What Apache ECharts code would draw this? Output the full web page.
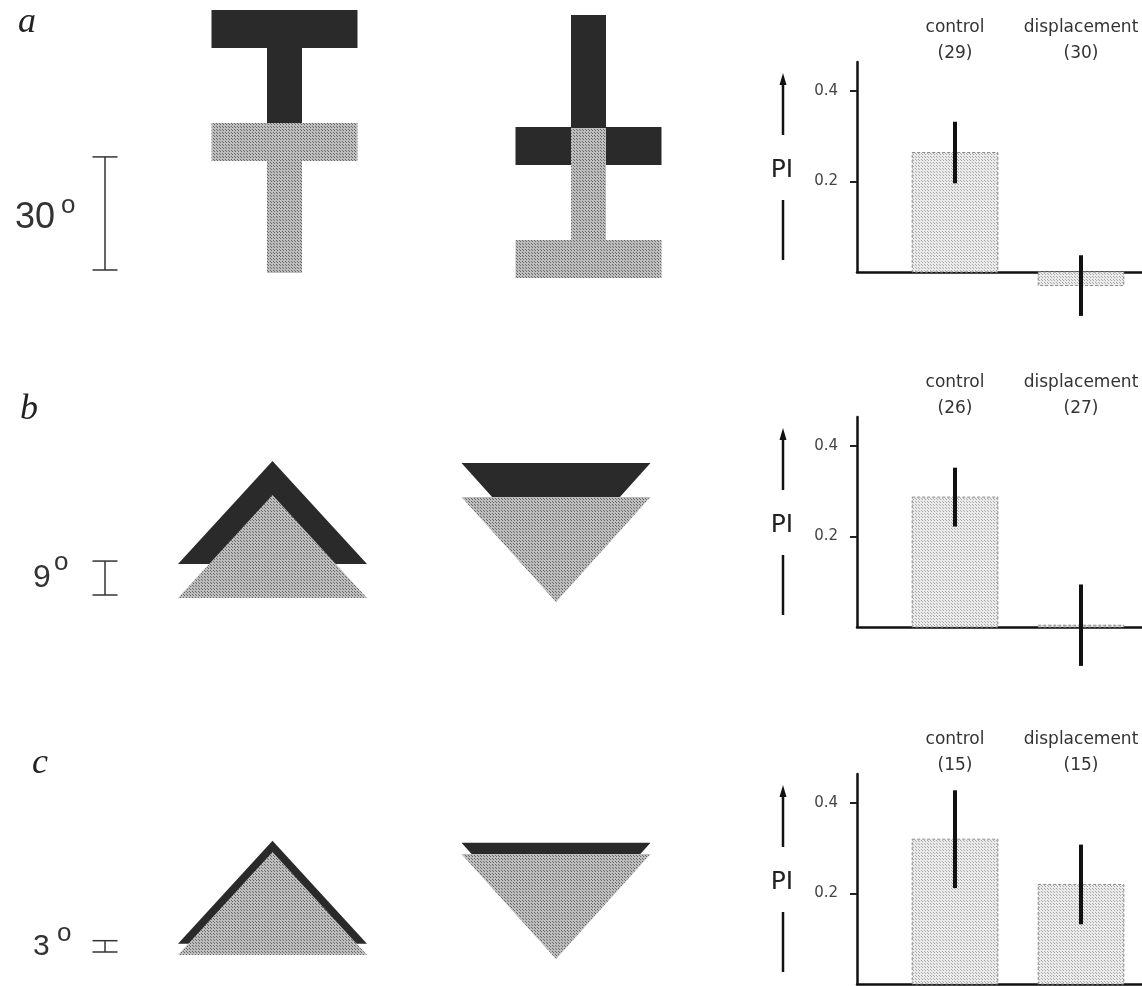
<!DOCTYPE html>
<html>
<head>
<meta charset="utf-8">
<style>
  html, body { margin: 0; padding: 0; background: #fff; }
  #chart { width: 1142px; height: 986px; }
</style>
<script src="https://cdn.jsdelivr.net/npm/echarts@6/dist/echarts.min.js"></script>
</head>
<body>
<div id="chart"></div>
<script>
// ---- data ----
const panelLetters = ['a', 'b', 'c'];
const categories = ['control', 'displacement'];
const scaleDegrees = [30, 9, 3];            // vertical displacement of the dark pattern
const sampleSizes = [[29, 30], [26, 27], [15, 15]];
const meanPI = [[0.264, -0.030], [0.287, 0.004], [0.320, 0.220]];
const errPI = [[0.068, 0.067], [0.065, 0.090], [0.108, 0.088]];
const yTickValues = [0.2, 0.4];

// ---- layout ----
const W = 1142, H = 986;
const gridTops = [62, 417, 774];
const gridH = 210;
const yMax = 0.464;
const pxPerDeg = 3.77;
const DARK = '#2a2a2a';
const TEXT = '#333';

const chart = echarts.init(document.getElementById('chart'), null, { renderer: 'canvas', width: W, height: H });

// halftone fill used for the grey patterns and bars
function dotPattern(bg, dot, step) {
  const c = document.createElement('canvas');
  c.width = step; c.height = step;
  const g = c.getContext('2d');
  g.fillStyle = bg; g.fillRect(0, 0, step, step);
  g.fillStyle = dot; g.fillRect(0, 0, 1, 1);
  g.fillRect(Math.floor(step / 2), Math.floor(step / 2), 1, 1);
  return { image: c, repeat: 'repeat' };
}
const greyFill = dotPattern('#bdbdbd', '#6a6a6a', 3);
const barFill = dotPattern('#eaeaea', '#acacac', 3);

const grids = [], xAxes = [], yAxes = [], series = [];
gridTops.forEach((top, i) => {
  grids.push({ left: 857, right: 0, top: top, height: gridH });
  xAxes.push({
    type: 'value', gridIndex: i, min: -0.778, max: 1.484,
    axisLine: { onZero: false, lineStyle: { color: '#111', width: 2.5 } },
    axisTick: { show: false }, axisLabel: { show: false }, splitLine: { show: false }
  });
  yAxes.push({
    type: 'value', gridIndex: i, min: 0, max: yMax,
    axisLine: { show: true, onZero: false, lineStyle: { color: '#111', width: 2.5 } },
    axisTick: { show: true, customValues: yTickValues, length: 7, lineStyle: { color: '#222', width: 2 } },
    axisLabel: {
      customValues: yTickValues, margin: 19,
      formatter: v => v.toFixed(1),
      fontFamily: 'DejaVu Sans', fontSize: 15, color: '#444'
    },
    splitLine: { show: false }
  });
  const rows = meanPI[i].map((m, j) => [j, m, errPI[i][j]]);
  series.push({
    type: 'custom', xAxisIndex: i, yAxisIndex: i, clip: false, z: 2,
    data: rows,
    renderItem: (params, api) => {
      const x = api.value(0), v = api.value(1);
      const p0 = api.coord([x, 0]), p1 = api.coord([x, v]);
      const w = api.size([0.68, 0])[0];
      return {
        type: 'rect',
        shape: { x: p0[0] - w / 2, y: Math.min(p0[1], p1[1]), width: w, height: Math.abs(p1[1] - p0[1]) },
        style: { fill: barFill, stroke: '#8a8a8a', lineWidth: 1, lineDash: [3, 2] }
      };
    }
  });
  series.push({
    type: 'custom', xAxisIndex: i, yAxisIndex: i, clip: false, z: 3,
    data: rows,
    renderItem: (params, api) => {
      const x = api.value(0), m = api.value(1), e = api.value(2);
      const hi = api.coord([x, m + e]), lo = api.coord([x, m - e]);
      return {
        type: 'line',
        shape: { x1: hi[0], y1: hi[1], x2: lo[0], y2: lo[1] },
        style: { stroke: '#111', lineWidth: 4 }
      };
    }
  });
});

chart.setOption({
  animation: false,
  backgroundColor: '#fff',
  grid: grids, xAxis: xAxes, yAxis: yAxes, series: series
});

// ---- annotations and stimulus patterns ----
const g = [];
function text(x, y, str, font, align, vAlign, fill) {
  g.push({ type: 'text', z: 10, style: {
    x: x, y: y, text: str, font: font, fill: fill || TEXT,
    textAlign: align || 'left', align: align || 'left',
    textVerticalAlign: vAlign || 'middle', verticalAlign: vAlign || 'middle'
  }});
}
function line(x1, y1, x2, y2, w, c) {
  g.push({ type: 'line', z: 10, shape: { x1, y1, x2, y2 }, style: { stroke: c || '#111', lineWidth: w } });
}
function poly(points, fill, z) {
  g.push({ type: 'polygon', z: z || 5, shape: { points: points }, style: { fill: fill } });
}
function rect(x, y, w, h, fill, z) {
  g.push({ type: 'rect', z: z || 5, shape: { x, y, width: w, height: h }, style: { fill: fill } });
}

const letterPos = [[18, 41], [20, 428], [32, 782]];
const degreeLabel = [
  { num: [15, 218, 36], sup: [61, 206] },
  { num: [33, 578, 32], sup: [54, 563] },
  { num: [33, 947, 30], sup: [57, 934] }
];
const scaleBarBottom = [270, 595, 952];

gridTops.forEach((top, i) => {
  // panel letter
  text(letterPos[i][0], letterPos[i][1], panelLetters[i], 'italic 36px "Liberation Serif"', 'left', 'bottom', '#222');

  // angular scale bar
  const len = scaleDegrees[i] * pxPerDeg;
  const sx = 105, sb = scaleBarBottom[i];
  line(sx, sb, sx, sb - len, 1.5, '#333');
  line(sx - 12.5, sb, sx + 12.5, sb, 1.5, '#333');
  line(sx - 12.5, sb - len, sx + 12.5, sb - len, 1.5, '#333');
  const d = degreeLabel[i];
  text(d.num[0], d.num[1], String(scaleDegrees[i]), d.num[2] + 'px "Liberation Sans"', 'left', 'middle');
  text(d.sup[0], d.sup[1], 'o', '26px "Liberation Sans"', 'left', 'middle');

  // y-axis title: arrow, PI, bar
  const ax = 783;
  line(ax, top + 20, ax, top + 73, 2.5);
  poly([[ax, top + 11], [ax - 3.5, top + 23], [ax + 3.5, top + 23]], '#111', 10);
  text(ax - 1, top + 108, 'PI', '25px "DejaVu Sans"', 'center', 'middle', '#222');
  line(ax, top + 138, ax, top + 198, 2.5);

  // category labels with sample sizes
  categories.forEach((cat, j) => {
    const px = chart.convertToPixel({ gridIndex: i }, [j, 0])[0];
    text(px, top - 34, cat, '17px "DejaVu Sans"', 'center', 'middle');
    text(px, top - 8, '(' + sampleSizes[i][j] + ')', '17px "DejaVu Sans"', 'center', 'middle');
  });
});

// row a: T patterns (dark copy raised by the scale angle, grey on top)
(function () {
  const shift = scaleDegrees[0] * pxPerDeg;
  const barW = 146, barH = 38, stemW = 35, totalH = 150;
  // upright T
  const cx = 284.5, gt = 123;
  [[-shift, DARK], [0, greyFill]].forEach(([dy, f]) => {
    rect(cx - barW / 2, gt + dy, barW, barH, f);
    rect(cx - stemW / 2, gt + dy + barH, stemW, totalH - barH, f);
  });
  // inverted T
  const cx2 = 588.5, gt2 = 128;
  [[-shift, DARK], [0, greyFill]].forEach(([dy, f]) => {
    rect(cx2 - stemW / 2, gt2 + dy, stemW, totalH - barH, f);
    rect(cx2 - barW / 2, gt2 + dy + totalH - barH, barW, barH, f);
  });
})();

// rows b, c: triangle patterns
[1, 2].forEach(i => {
  const top = gridTops[i];
  const shift = scaleDegrees[i] * pxPerDeg;
  const hw = 94.5, th = 103;
  // upright
  const cx = 272.5, base = top + 181;
  [[-shift, DARK], [0, greyFill]].forEach(([dy, f]) => {
    poly([[cx - hw, base + dy], [cx + hw, base + dy], [cx, base + dy - th]], f);
  });
  // inverted
  const cx2 = 556, tp = top + 80;
  [[-shift, DARK], [0, greyFill]].forEach(([dy, f]) => {
    poly([[cx2 - hw, tp + dy], [cx2 + hw, tp + dy], [cx2, tp + dy + th + 2]], f);
  });
});

chart.setOption({ graphic: g });
</script>
</body>
</html>
